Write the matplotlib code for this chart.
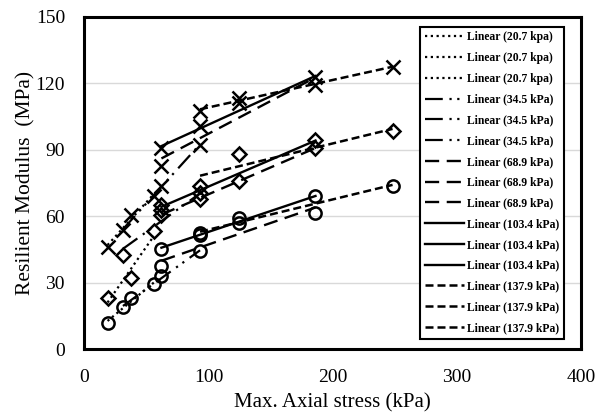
import numpy as np
import matplotlib
matplotlib.use("Agg")
import matplotlib.pyplot as plt

plt.rcParams['font.family'] = ['Liberation Serif', 'DejaVu Serif']

# Max. axial stress (kPa) for each confining-pressure group
x_20_7 = [18.6, 37.3, 55.9]
x_34_5 = [31.0, 62.0, 93.1]
x_68_9 = [62.0, 124.1, 186.1]
x_103_4 = [62.0, 93.1, 186.1]
x_137_9 = [93.1, 124.1, 248.2]

# Material A (crosses)
A_20_7 = [46.0, 60.8, 69.0]
A_34_5 = [54.0, 73.8, 92.3]
A_68_9 = [82.8, 111.0, 119.3]
A_103_4 = [90.8, 100.8, 123.0]
A_137_9 = [107.3, 113.3, 127.2]

# Material B (diamonds)
B_20_7 = [23.3, 32.0, 53.3]
B_34_5 = [42.8, 63.0, 67.8]
B_68_9 = [60.8, 75.8, 90.8]
B_103_4 = [65.3, 70.5, 94.5]
B_137_9 = [73.8, 88.2, 98.3]

# Material C (circles)
C_20_7 = [12.0, 23.3, 29.3]
C_34_5 = [19.2, 33.0, 44.3]
C_68_9 = [37.5, 57.0, 61.5]
C_103_4 = [45.3, 52.5, 69.0]
C_137_9 = [51.5, 59.3, 73.8]

group_x = [x_20_7, x_34_5, x_68_9, x_103_4, x_137_9]
group_labels = ["Linear (20.7 kpa)", "Linear (34.5 kPa)", "Linear (68.9 kPa)",
                "Linear (103.4 kPa)", "Linear (137.9 kPa)"]
mat_A = [A_20_7, A_34_5, A_68_9, A_103_4, A_137_9]
mat_B = [B_20_7, B_34_5, B_68_9, B_103_4, B_137_9]
mat_C = [C_20_7, C_34_5, C_68_9, C_103_4, C_137_9]

x_ticks = [0, 100, 200, 300, 400]
y_ticks = [0, 30, 60, 90, 120, 150]

styles = [
    dict(linestyle=(0, (1, 1.6)), linewidth=1.6),
    dict(linestyle=(0, (8, 3, 1, 2.5, 1, 3)), linewidth=1.6),
    dict(linestyle=(0, (6, 3.2)), linewidth=1.7),
    dict(linestyle='-', linewidth=1.7),
    dict(linestyle=(0, (3.2, 1.6)), linewidth=1.8),
]
markers = [dict(marker='x', ms=9.5, mew=1.8),
           dict(marker='D', ms=7.3, mew=1.8),
           dict(marker='o', ms=8.8, mew=1.8)]

fig = plt.figure(figsize=(5.97, 4.12), dpi=100)
ax = fig.add_axes([0.1415, 0.1517, 0.8317, 0.8078])

# markers
for mat, mk in zip([mat_A, mat_B, mat_C], markers):
    for xs, ys in zip(group_x, mat):
        ax.plot(xs, ys, linestyle='none', color='black', mfc='none', zorder=3, **mk)

# trendlines (legend order: group, then material)
for gi, (xs, st, lab) in enumerate(zip(group_x, styles, group_labels)):
    for mat in [mat_A, mat_B, mat_C]:
        ys = mat[gi]
        k, b = np.polyfit(xs, ys, 1)
        xx = np.array([min(xs), max(xs)])
        ax.plot(xx, k * xx + b, color='black', label=lab, zorder=4, **st)

ax.set_xlim(0, 400)
ax.set_ylim(0, 150)
ax.set_xticks(x_ticks)
ax.set_yticks(y_ticks)
ax.tick_params(length=0, labelsize=14)
ax.tick_params(axis='x', pad=14)
ax.tick_params(axis='y', pad=14)
ax.yaxis.grid(True, color='#d9d9d9', linewidth=1.0)
ax.set_axisbelow(True)
for s in ax.spines.values():
    s.set_linewidth(2.2)
    s.set_color('black')

ax.set_xlabel("Max. Axial stress (kPa)", fontsize=15, labelpad=5)
ax.set_ylabel("Resilient Modulus  (MPa)", fontsize=15.5, labelpad=0)

leg = ax.legend(loc='upper right', bbox_to_anchor=(0.966, 0.97), ncol=1,
                prop=dict(family='Liberation Serif', weight='bold', size=8.4),
                handlelength=3.4, handletextpad=0.25, labelspacing=0.75,
                borderpad=0.4, borderaxespad=0, fancybox=False, framealpha=1,
                edgecolor='black')
leg.get_frame().set_linewidth(1.5)

fig.savefig("out.png", dpi=100)
